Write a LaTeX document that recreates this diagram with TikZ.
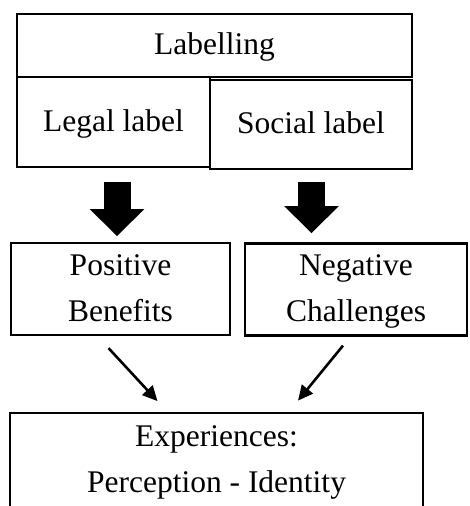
\documentclass[tikz,border=0pt]{standalone}
\usepackage{fontspec}
\setmainfont{Liberation Serif}
\usetikzlibrary{arrows.meta}
\begin{document}
\begin{tikzpicture}[x=1pt,y=-1pt,
  box/.style={draw,line width=2.2pt,rectangle,inner sep=0pt,align=center,
    font=\fontsize{31.5}{46}\selectfont},
  blockarrow/.style={line width=27pt,-{Triangle[length=27pt,width=53pt]}},
  thinarrow/.style={line width=2.6pt,-{Triangle[length=15pt,width=14pt]}}]
  \useasboundingbox (0,0) rectangle (469,506);

  % top block and its two halves
  \node[box,minimum width=395pt,minimum height=63pt] (labelling) at (214.5,45.5) {\strut Labelling};
  \node[box,minimum width=193pt,minimum height=90pt] (legal) at (113.5,122) {\strut Legal label};
  \node[box,minimum width=202pt,minimum height=89pt] (social) at (311,124.5) {\strut Social label};

  % outcomes
  \node[box,minimum width=219pt,minimum height=92pt] (positive) at (120.5,289) {\strut Positive\\\strut Benefits};
  \node[box,minimum width=222pt,minimum height=89pt] (negative) at (356,289.5) {\strut Negative\\\strut Challenges};

  % resulting experiences
  \node[box,minimum width=413pt,minimum height=95pt] (experiences) at (216.5,460.5) {\strut Experiences:\\\strut Perception - Identity};

  % heavy arrows from the labels to the outcomes
  \draw[blockarrow] (legal.south) ++(3.5,14) -- ++(0,54);
  \draw[blockarrow] (social.south) ++(0.5,12) -- ++(0,51);

  % thin arrows into the experiences box
  \draw[thinarrow] (positive.south) ++(-12,12) -- ++(49,53);
  \draw[thinarrow] (negative.south) ++(-13,9) -- ++(-45,55);
\end{tikzpicture}
\end{document}
